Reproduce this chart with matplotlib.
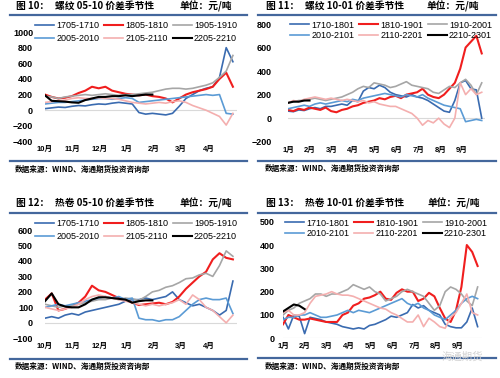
import numpy as np
import matplotlib.pyplot as plt
from matplotlib.lines import Line2D

plt.rcParams['font.family'] = ['Liberation Sans', 'Noto Sans CJK SC']

W, H = 500, 378

# ---- 数据（从图上读数，单位：元/吨）----
months_0510 = ['10月', '11月', '12月', '1月', '2月', '3月', '4月']
months_1001 = ['1月', '2月', '3月', '4月', '5月', '6月', '7月', '8月', '9月']

names_0510 = ['1705-1710', '1805-1810', '1905-1910', '2005-2010', '2105-2110', '2205-2210']
names_1001_rb = ['1710-1801', '1810-1901', '1910-2001', '2010-2101', '2110-2201', '2210-2301']
names_1001_hc = ['1710-1801', '1810-1901', '1910-2001', '2010-2101', '2110-2201', '2210-2301']

# 图10 螺纹 05-10
rb0510_1705 = [20, 30, 40, 35, 50, 60, 55, 70, 80, 75, 90, 100, 90, 80, -30, -50, -40, -50, -60, -40,
               50, 150, 200, 250, 280, 300, 420, 800, 620]
rb0510_1805 = [200, 170, 150, 160, 180, 220, 250, 300, 280, 300, 250, 230, 210, 200, 190, 200, 180, 170, 150, 100,
               150, 200, 230, 250, 270, 300, 400, 480, 300]
rb0510_1905 = [180, 170, 150, 170, 180, 190, 200, 190, 200, 210, 200, 190, 200, 200, 210, 220, 230, 250, 270, 280,
               280, 270, 280, 300, 320, 350, 420, 500, 700]
rb0510_2005 = [80, 90, 100, 100, 110, 120, 130, 140, 150, 150, 140, 150, 160, 150, 100, 110, 120, 130, 140, 150,
               160, 170, 180, 190, 200, 190, 200, -40, -50]
rb0510_2105 = [100, 110, 120, 130, 150, 160, 150, 150, 160, 150, 150, 140, 120, 100, 90, 80, 90, 100, 90, 110,
               120, 100, 60, 30, 0, -40, -80, -190, -40]
rb0510_2205 = [190, 120, 115, 110, 100, 95, 130, 150, 170, 170, 180, 180, 190, 180, 190, 200, 200]

# 图11 螺纹 10-01
rb1001_1710 = [60, 55, 70, 65, 80, 90, 80, 100, 100, 110, 120, 110, 150, 140, 230, 260, 250, 280, 260, 220,
               200, 190, 180, 200, 180, 170, 150, 120, 90, 60, 50, 150, 300, 320, 250, 240, 0]
rb1001_1810 = [70, 60, 80, 70, 90, 80, 70, 90, 60, 50, 70, 80, 100, 110, 130, 140, 150, 170, 160, 180,
               190, 170, 200, 210, 220, 250, 200, 180, 170, 200, 250, 300, 420, 600, 650, 700, 550]
rb1001_1910 = [130, 140, 150, 150, 160, 170, 160, 150, 160, 170, 180, 200, 220, 250, 270, 260, 300, 290, 280, 260,
               270, 290, 310, 280, 270, 260, 250, 220, 210, 240, 270, 260, 300, 330, 280, 200, 300]
rb1001_2010 = [80, 90, 100, 110, 100, 120, 130, 120, 130, 140, 150, 140, 160, 150, 170, 180, 190, 200, 210, 200,
               190, 180, 200, 190, 180, 200, 170, 150, 130, 110, 100, 90, 80, -30, -20, -10, -20]
rb1001_2110 = [130, 150, 140, 160, 170, 180, 170, 160, 170, 160, 150, 160, 150, 140, 150, 130, 140, 120, 110, 100,
               100, 80, 60, 40, 0, -60, -20, -40, 0, -50, -80, 0, 300, 200, 250, 200, 220]
rb1001_2210 = [130, 140, 140, 150, 150]

# 图12 热卷 05-10
hc0510_1705 = [30, 40, 30, 50, 60, 50, 70, 80, 90, 100, 110, 120, 140, 150, 150, 160, 150, 160, 170, 200,
               150, 130, 110, 120, 100, 80, 50, 80, 270]
hc0510_1805 = [150, 190, 80, 90, 110, 130, 170, 240, 210, 200, 180, 160, 150, 130, 115, 120, 125, 130, 120, 135,
               170, 220, 260, 300, 330, 410, 450, 420, 410]
hc0510_1905 = [120, 110, 100, 110, 110, 120, 130, 140, 150, 150, 160, 150, 160, 155, 145, 170, 200, 210, 230, 240,
               260, 285, 290, 310, 320, 300, 370, 465, 430]
hc0510_2005 = [100, 110, 120, 110, 120, 130, 140, 150, 160, 170, 160, 170, 150, 160, 30, 20, 20, 10, 20, 20,
               40, 80, 120, 150, 160, 150, 150, 160, 60]
hc0510_2105 = [100, 90, 80, 90, 100, 120, 150, 170, 180, 170, 160, 150, 140, 130, 120, 110, 120, 110, 120, 130,
               150, 120, 180, 150, 100, 80, 40, 0, 50]
hc0510_2205 = [140, 190, 120, 105, 100, 100, 120, 150, 165, 165, 160, 155, 150, 130, 140, 145, 145]

# 图13 热卷 10-01
hc1001_1710 = [90, 40, 100, 95, 20, 90, 85, 80, 70, 65, 60, 50, 45, 40, 45, 40, 55, 60, 70, 80,
               95, 90, 100, 110, 145, 130, 140, 120, 110, 100, 60, 50, 45, 45, 70, 130, 50]
hc1001_1810 = [60, 100, 90, 80, 80, 85, 80, 75, 70, 70, 70, 100, 110, 140, 150, 170, 175, 185, 200, 170,
               165, 195, 210, 200, 200, 160, 170, 195, 180, 130, 85, 70, 120, 220, 400, 370, 310]
hc1001_1910 = [100, 120, 130, 150, 160, 170, 190, 190, 180, 190, 190, 200, 210, 230, 220, 210, 220, 200, 190, 160,
               170, 180, 200, 210, 200, 190, 180, 150, 120, 140, 200, 220, 210, 190, 160, 140, 220]
hc1001_2010 = [80, 90, 90, 100, 100, 110, 100, 90, 90, 95, 100, 110, 120, 110, 120, 115, 110, 120, 130, 140,
               150, 160, 170, 150, 140, 150, 130, 120, 100, 90, 80, 100, 120, 150, 170, 180, 170]
hc1001_2110 = [110, 120, 100, 100, 110, 150, 180, 185, 190, 200, 190, 185, 185, 180, 170, 160, 150, 140, 130, 125,
               110, 100, 85, 70, 70, 100, 50, 86, 70, 50, 43, 90, 110, 150, 190, 110, 100]
hc1001_2210 = [115, 130, 145, 140, 125]

# 时间轴（以月为单位）
x_0510 = np.linspace(0, 6.9, 29)
x_1001 = np.linspace(0, 8.9, 37)

colors = ['#3A6BB0', '#F01E1E', '#A6A6A6', '#5B9BD5', '#F4AFAF', '#000000']
widths = [1.2, 1.5, 1.2, 1.2, 1.2, 1.5]
bar_color = '#44679C'

fig = plt.figure(figsize=(5, 3.78), dpi=100)


def fig_line(x0, x1, y):
    fig.add_artist(Line2D([x0 / W, x1 / W], [1 - y / H, 1 - y / H], color=bar_color, lw=1.6))


def header(x0, y, num, name, unit_right):
    kw = dict(family=['Noto Sans CJK SC', 'DejaVu Sans'], fontweight='bold', fontsize=7, va='center')
    fig.text((x0 + 16) / W, 1 - y / H, f'图 {num}：', **kw)
    fig.text((x0 + 55) / W, 1 - y / H, name, **kw)
    fig.text(unit_right / W, 1 - y / H, '单位：元/吨', ha='right', **kw)


def footer(x0, y):
    fig.text((x0 + 15) / W, 1 - y / H, '数据来源：WIND、海通期货投资咨询部',
             family=['Noto Sans CJK SC', 'DejaVu Sans'], fontweight='bold', fontsize=5.5, va='center')


def draw_panel(left, right, top, bottom, xmax, ylim, yticks, xlabels, x, series, names,
               ypad, leg_xy, leg_space):
    ax = fig.add_axes([left / W, 1 - bottom / H, (right - left) / W, (bottom - top) / H])
    lines = []
    for vals, name, c, lw in zip(series, names, colors, widths):
        ln, = ax.plot(x[:len(vals)], vals, color=c, lw=lw, label=name)
        lines.append(ln)
    ax.axhline(0, color='#D9D9D9', lw=0.8, zorder=0)
    ax.set_xlim(0, xmax)
    ax.set_ylim(*ylim)
    ax.set_yticks(yticks)
    ax.set_xticks(range(len(xlabels)))
    ax.set_xticklabels(xlabels, fontsize=5.5, fontweight='bold')
    for t in ax.get_yticklabels():
        t.set_fontweight('bold')
    ax.tick_params(axis='y', length=0, pad=ypad, labelsize=6.5)
    ax.tick_params(axis='x', length=0, pad=3.5)
    for s in ax.spines.values():
        s.set_visible(False)
    order = [0, 3, 1, 4, 2, 5]
    fig.legend([lines[i] for i in order], [names[i] for i in order], ncol=3, loc='center',
               bbox_to_anchor=(leg_xy[0] / W, 1 - leg_xy[1] / H), frameon=False, fontsize=6.5,
               handlelength=2.1, handletextpad=0.25, columnspacing=0.5, labelspacing=leg_space,
               borderpad=0)
    return ax


# 图10
header(0, 6, 10, '螺纹 05-10 价差季节性', 232)
fig_line(10, 247, 15)
draw_panel(45, 237, 32, 141.5, 7.05, (-400, 1000), range(-400, 1001, 200), months_0510, x_0510,
           [rb0510_1705, rb0510_1805, rb0510_1905, rb0510_2005, rb0510_2105, rb0510_2205],
           names_0510, 8.6, (136, 32), 0.45)
fig_line(10, 247, 160.7)
footer(0, 169)

# 图11
header(250, 6, 11, '螺纹 10-01 价差季节性', 479)
fig_line(258, 496, 15)
draw_panel(288, 485, 24, 141.7, 9.05, (-200, 800), range(-200, 801, 200), months_1001, x_1001,
           [rb1001_1710, rb1001_1810, rb1001_1910, rb1001_2010, rb1001_2110, rb1001_2210],
           names_1001_rb, 11.5, (391, 30.5), 0.2)
fig_line(258, 496, 161)
footer(250, 168)

# 图12
header(0, 203, 12, '热卷 05-10 价差季节性', 232)
fig_line(10, 247, 213.3)
draw_panel(45, 237, 230, 338.3, 7.05, (-100, 600), range(-100, 601, 100), months_0510, x_0510,
           [hc0510_1705, hc0510_1805, hc0510_1905, hc0510_2005, hc0510_2105, hc0510_2205],
           names_0510, 8.6, (136, 230), 0.45)
fig_line(10, 247, 359)
footer(0, 366.7)

# 图13
header(250, 203.3, 13, '热卷 10-01 价差季节性', 480)
fig_line(258, 496, 212.7)
draw_panel(283, 482, 221.7, 338.3, 9.1, (0, 500), range(0, 501, 100), months_1001, x_1001,
           [hc1001_1710, hc1001_1810, hc1001_1910, hc1001_2010, hc1001_2110, hc1001_2210],
           names_1001_hc, 6, (386, 228.5), 0.2)
fig_line(258, 496, 358)
footer(250, 366.7)

# 水印
fig.text(462 / W, 1 - 357 / H, '海通期货', family=['Noto Sans CJK SC', 'DejaVu Sans'],
         color='#D2D2D2', fontsize=7.5, ha='center', va='center')

fig.savefig('out.png', dpi=100)
